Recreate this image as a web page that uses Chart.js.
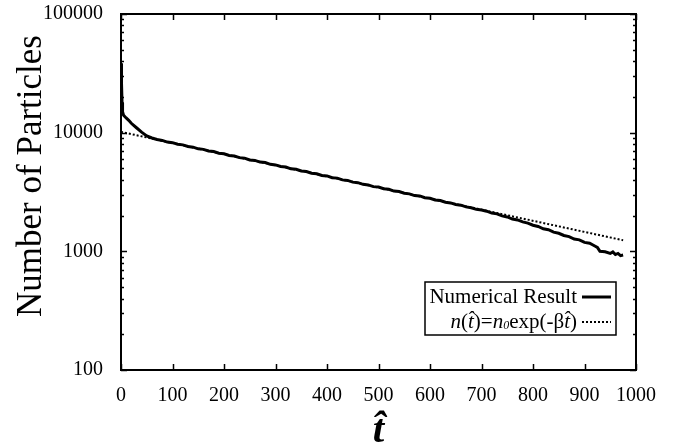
<!DOCTYPE html>
<html>
<head>
<meta charset="utf-8">
<script src="https://cdn.jsdelivr.net/npm/chart.js@4.4.0/dist/chart.umd.min.js"></script>
<style>
html, body { margin: 0; padding: 0; background: #fff; }
#wrap { width: 681px; height: 447px; }
</style>
</head>
<body>
<div id="wrap"><canvas id="decayChart" width="681" height="447"></canvas></div>
<script>
// numerical result
const tNum = [0, 1, 2, 3, 5, 10, 15, 20, 30, 40, 50, 60, 70, 80, 90, 100, 110, 120, 130, 140, 150,
    160, 170, 180, 190, 200, 210, 220, 230, 240, 250, 260, 270, 280, 290, 300, 310, 320, 330, 340,
    350, 360, 370, 380, 390, 400, 410, 420, 430, 440, 450, 460, 470, 480, 490, 500, 510, 520, 530,
    540, 550, 560, 570, 580, 590, 600, 610, 620, 630, 640, 650, 660, 670, 680, 690, 700, 710, 720,
    730, 740, 750, 760, 770, 780, 790, 800, 810, 820, 830, 840, 850, 860, 870, 880, 890, 900, 910,
    920, 925, 930, 940, 950, 955, 960, 965, 970, 975];
const nNum = [38500, 26000, 18000, 15000, 14000, 13300, 12700, 12000, 11000, 10100, 9400, 9020, 8760,
    8600, 8330, 8240, 7990, 7890, 7640, 7550, 7310, 7230, 7010, 6930, 6720, 6640, 6430, 6360, 6160,
    6100, 5890, 5840, 5650, 5600, 5410, 5350, 5190, 5140, 4960, 4920, 4750, 4710, 4550, 4510, 4360,
    4320, 4170, 4140, 4000, 3960, 3830, 3790, 3670, 3630, 3510, 3480, 3370, 3330, 3220, 3190, 3090,
    3050, 2950, 2930, 2830, 2800, 2710, 2680, 2590, 2560, 2480, 2450, 2370, 2330, 2260, 2230, 2180,
    2100, 2070, 1990, 1950, 1870, 1840, 1770, 1730, 1660, 1620, 1550, 1520, 1450, 1420, 1360, 1330,
    1270, 1250, 1190, 1170, 1110, 1080, 1000, 990, 960, 990, 940, 960, 920, 930];

// fitted exponential n0*exp(-beta*t), straight on the log axis
const tFit = [0, 975];
const nFit = [10150, 1240];

const xTicks = [0, 100, 200, 300, 400, 500, 600, 700, 800, 900, 1000];
const yTicks = [100, 1000, 10000, 100000];
const yTickLabels = ['100', '1000', '10000', '100000'];

const serif = "'Liberation Serif', 'Times New Roman', serif";

const frameTicks = {
    id: 'frameTicks',
    afterDatasetsDraw(chart) {
        const { ctx, chartArea: a, scales } = chart;
        const xs = scales.x, ys = scales.y;
        ctx.save();
        ctx.strokeStyle = '#000';
        ctx.lineWidth = 1.5;
        ctx.beginPath();
        xTicks.forEach(v => {
            const px = Math.round(xs.getPixelForValue(v)) + 0.5;
            ctx.moveTo(px, a.bottom); ctx.lineTo(px, a.bottom - 6);
            ctx.moveTo(px, a.top); ctx.lineTo(px, a.top + 6);
        });
        for (let d = 0; d < yTicks.length; d++) {
            const base = yTicks[d];
            const py = Math.round(ys.getPixelForValue(base)) + 0.5;
            ctx.moveTo(a.left, py); ctx.lineTo(a.left + 6, py);
            ctx.moveTo(a.right, py); ctx.lineTo(a.right - 6, py);
            if (d === yTicks.length - 1) break;
            for (let m = 2; m <= 9; m++) {
                const my = Math.round(ys.getPixelForValue(base * m)) + 0.5;
                ctx.moveTo(a.left, my); ctx.lineTo(a.left + 3, my);
                ctx.moveTo(a.right, my); ctx.lineTo(a.right - 3, my);
            }
        }
        ctx.stroke();
        ctx.lineWidth = 2;
        ctx.strokeRect(a.left, a.top, a.right - a.left, a.bottom - a.top);
        ctx.restore();
    },
    afterDraw(chart) {
        const ctx = chart.ctx;
        ctx.save();

        // y axis title, sits a bit above the axis centre
        ctx.fillStyle = '#000';
        ctx.translate(32, 176);
        ctx.rotate(-Math.PI / 2);
        ctx.textAlign = 'center';
        ctx.textBaseline = 'middle';
        ctx.font = '35px ' + serif;
        ctx.fillText('Number of Particles', 0, 0);
        ctx.setTransform(1, 0, 0, 1, 0, 0);

        const box = { x: 425, y: 282, w: 191, h: 53 };
        ctx.fillStyle = '#fff';
        ctx.fillRect(box.x, box.y, box.w, box.h);
        ctx.strokeStyle = '#000';
        ctx.lineWidth = 1.5;
        ctx.strokeRect(box.x, box.y, box.w, box.h);

        const textRight = 577;
        ctx.fillStyle = '#000';
        ctx.textBaseline = 'middle';
        ctx.textAlign = 'right';
        ctx.font = '21px ' + serif;
        ctx.fillText(chart.data.datasets[0].label, textRight, 297);

        ctx.lineWidth = 3;
        ctx.beginPath();
        ctx.moveTo(582, 297); ctx.lineTo(611, 297);
        ctx.stroke();

        // second entry, mixed italic / roman
        const parts = [
            { t: 'n', f: 'italic 21px ' + serif },
            { t: '(', f: '21px ' + serif },
            { t: 't\u0302', f: 'italic 21px ' + serif },
            { t: ')=', f: '21px ' + serif },
            { t: 'n', f: 'italic 21px ' + serif },
            { t: '0', f: 'italic 12px ' + serif, dy: 4 },
            { t: 'exp(-\u03b2', f: '21px ' + serif },
            { t: 't\u0302', f: 'italic 21px ' + serif },
            { t: ')', f: '21px ' + serif }
        ];
        ctx.textAlign = 'left';
        let total = 0;
        parts.forEach(p => { ctx.font = p.f; p.w = ctx.measureText(p.t).width; total += p.w; });
        let x = textRight - total;
        parts.forEach(p => {
            ctx.font = p.f;
            ctx.fillText(p.t, x, 322 + (p.dy || 0));
            x += p.w;
        });

        ctx.lineWidth = 2;
        ctx.setLineDash([2, 2]);
        ctx.beginPath();
        ctx.moveTo(582, 322); ctx.lineTo(611, 322);
        ctx.stroke();
        ctx.restore();
    }
};

const ctx = document.getElementById('decayChart').getContext('2d');
new Chart(ctx, {
    type: 'line',
    data: {
        datasets: [{
            label: 'Numerical Result',
            data: tNum.map((t, i) => ({ x: t, y: nNum[i] })),
            borderColor: '#000',
            borderWidth: 3,
            pointRadius: 0,
            fill: false,
            tension: 0
        }, {
            label: 'n(t\u0302)=n\u2080exp(-\u03b2t\u0302)',
            data: tFit.map((t, i) => ({ x: t, y: nFit[i] })),
            borderColor: '#000',
            borderWidth: 2,
            borderDash: [2, 2],
            pointRadius: 0,
            fill: false
        }]
    },
    options: {
        responsive: false,
        animation: false,
        layout: { padding: { top: 14, right: 45, left: 0, bottom: 0 } },
        plugins: { legend: { display: false }, tooltip: { enabled: false } },
        scales: {
            x: {
                type: 'linear',
                min: 0,
                max: 1000,
                grid: { display: false, drawTicks: false },
                border: { display: false },
                afterBuildTicks: scale => { scale.ticks = xTicks.map(v => ({ value: v })); },
                ticks: {
                    color: '#000', padding: 14, maxRotation: 0,
                    font: { family: serif, size: 20 },
                    callback: v => String(v)
                },
                title: {
                    display: true,
                    text: 't\u0302',
                    color: '#000',
                    padding: { top: 0, bottom: -9 },
                    font: { family: serif, size: 41, style: 'italic', weight: 'bold' }
                },
                afterFit: scale => {
                    scale.height = 77;
                    scale.paddingLeft = 0; scale.paddingRight = 0;
                }
            },
            y: {
                type: 'logarithmic',
                min: 100,
                max: 100000,
                grid: { display: false, drawTicks: false },
                border: { display: false },
                afterBuildTicks: scale => { scale.ticks = yTicks.map(v => ({ value: v })); },
                ticks: {
                    color: '#000',
                    padding: 18,
                    font: { family: serif, size: 20 },
                    callback: (v) => { const i = yTicks.indexOf(v); return i >= 0 ? yTickLabels[i] : ''; }
                },
                afterFit: scale => {
                    scale.width = 121;
                    scale.paddingTop = 0; scale.paddingBottom = 0;
                }
            }
        }
    },
    plugins: [frameTicks]
});
</script>
</body>
</html>
